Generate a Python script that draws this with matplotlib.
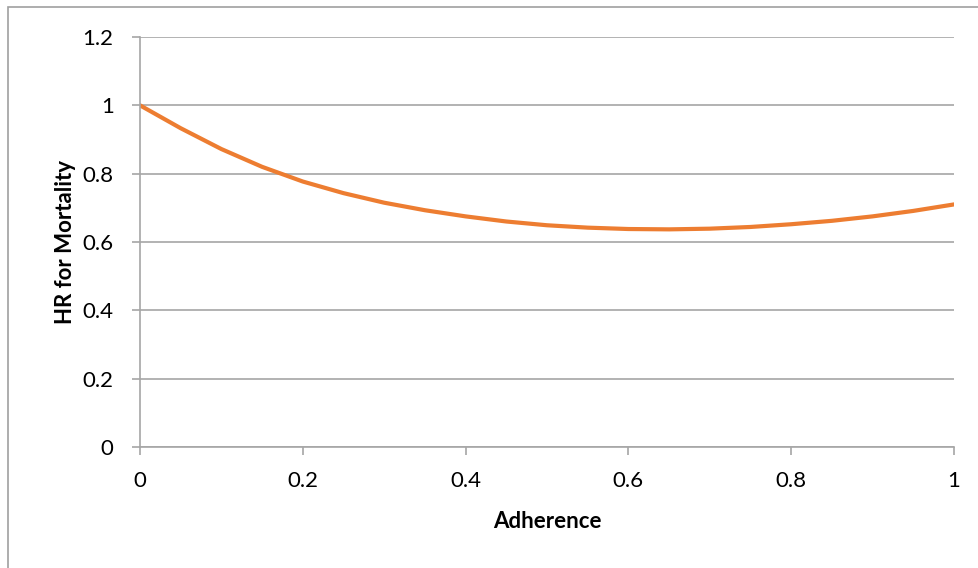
import numpy as np
import matplotlib.pyplot as plt
from matplotlib.patches import Rectangle

adherence = [0.0, 0.05, 0.1, 0.15, 0.2, 0.25, 0.3, 0.35, 0.4, 0.45, 0.5,
             0.55, 0.6, 0.65, 0.7, 0.75, 0.8, 0.85, 0.9, 0.95, 1.0]
hr = [1.0, 0.933, 0.872, 0.820, 0.777, 0.743, 0.715, 0.693, 0.675, 0.660, 0.649,
      0.642, 0.638, 0.637, 0.639, 0.644, 0.652, 0.662, 0.675, 0.691, 0.710]
xticks = [0, 0.2, 0.4, 0.6, 0.8, 1]
xticklabels = ["0", "0.2", "0.4", "0.6", "0.8", "1"]
yticks = [0, 0.2, 0.4, 0.6, 0.8, 1, 1.2]
yticklabels = ["0", "0.2", "0.4", "0.6", "0.8", "1", "1.2"]

plt.rcParams["font.family"] = ["Lato", "DejaVu Sans"]
grey = "#A6A6A6"

fig = plt.figure(figsize=(9.79, 5.68), dpi=100)
fig.patches.append(Rectangle((8/979, -0.1), 1.2, 1 - 7/568 + 0.1,
                             transform=fig.transFigure, fill=False,
                             edgecolor="#A0A0A0", linewidth=1.2))
ax = fig.add_axes([140/979, 1 - 447/568, 814/979, 410/568])

ax.plot(adherence, hr, color="#ED7D31", linewidth=3, solid_capstyle="round",
        solid_joinstyle="round")

ax.set_xlim(0, 1)
ax.set_ylim(0, 1.2)
ax.set_xticks(xticks)
ax.set_xticklabels(xticklabels)
ax.set_yticks(yticks)
ax.set_yticklabels(yticklabels)
ax.tick_params(axis="both", labelsize=16, color=grey, length=6, width=1.2)
ax.tick_params(axis="x", pad=11)
ax.tick_params(axis="y", pad=13)

ax.grid(True, axis="y", color=grey, linewidth=1.2)
ax.set_axisbelow(True)
for s in ["top", "right"]:
    ax.spines[s].set_visible(False)
for s in ["left", "bottom"]:
    ax.spines[s].set_color(grey)
    ax.spines[s].set_linewidth(1.2)

ax.set_xlabel("Adherence", fontsize=16, fontweight="bold", labelpad=15)
ax.set_ylabel("HR for Mortality", fontsize=16, fontweight="bold", labelpad=5)

fig.savefig("out.png", dpi=100)
